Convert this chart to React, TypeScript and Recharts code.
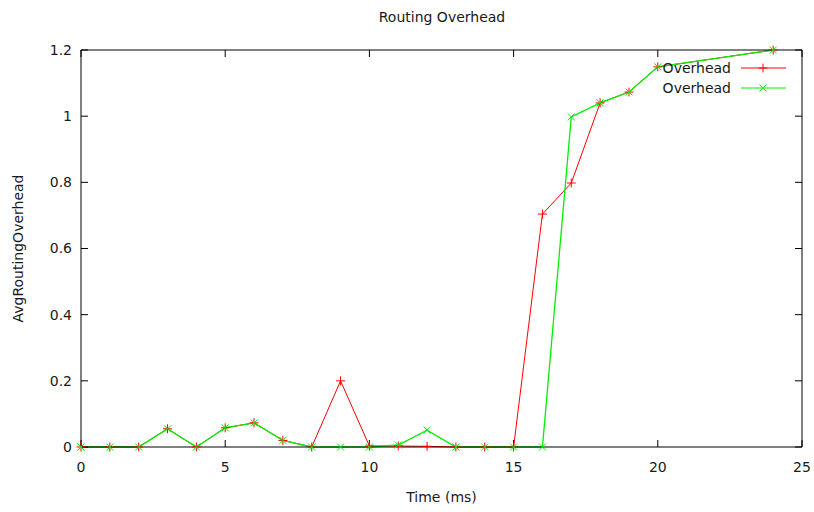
import { LineChart, Line, XAxis, YAxis, Legend, Label } from "recharts";

// time (ms)
const times = [0, 1, 2, 3, 4, 5, 6, 7, 8, 9, 10, 11, 12, 13, 14, 15, 16, 17, 18, 19, 20, 24];
// first "Overhead" series (red, + marks)
const overheadA = [0, 0, 0, 0.055, 0, 0.058, 0.073, 0.02, 0, 0.2, 0.003, 0.003, 0.002, 0, 0, 0, 0.704, 0.798, 1.04, 1.073, 1.149, 1.2];
// second "Overhead" series (green, x marks)
const overheadB = [0, 0, 0, 0.055, 0, 0.058, 0.073, 0.02, 0, 0, 0, 0.006, 0.051, 0, 0, 0, 0, 0.998, 1.04, 1.073, 1.149, 1.2];

const xTicks = [0, 5, 10, 15, 20, 25];
const yTicks = [0, 0.2, 0.4, 0.6, 0.8, 1, 1.2];

const data = times.map((t, i) => ({ t, a: overheadA[i], b: overheadB[i] }));

const FONT = "'DejaVu Sans', sans-serif";
const TXT = "#1a1a1a";

const PlusDot = (p: any) => {
  if (p.cx == null || p.cy == null) return null;
  const s = 4.5;
  return (
    <g stroke={p.stroke} strokeWidth={1}>
      <line x1={p.cx - s} y1={p.cy} x2={p.cx + s} y2={p.cy} />
      <line x1={p.cx} y1={p.cy - s} x2={p.cx} y2={p.cy + s} />
    </g>
  );
};

const CrossDot = (p: any) => {
  if (p.cx == null || p.cy == null) return null;
  const s = 3.5;
  return (
    <g stroke={p.stroke} strokeWidth={1}>
      <line x1={p.cx - s} y1={p.cy - s} x2={p.cx + s} y2={p.cy + s} />
      <line x1={p.cx - s} y1={p.cy + s} x2={p.cx + s} y2={p.cy - s} />
    </g>
  );
};

const KeyContent = (props: any) => {
  const items = (props.payload || []).filter((it: any) => it.type !== "none");
  return (
    <svg width={200} height={40} style={{ display: "block" }}>
      {items.map((it: any, i: number) => {
        const y = 10 + i * 20;
        const Mark = i === 0 ? PlusDot : CrossDot;
        return (
          <g key={i}>
            <text x={131} y={y} dy="0.36em" textAnchor="end" fontSize={14} fontFamily={FONT} fill={TXT}>
              {it.value}
            </text>
            <line x1={141} y1={y} x2={186} y2={y} stroke={it.color} strokeWidth={1} />
            <Mark cx={163} cy={y} stroke={it.color} />
          </g>
        );
      })}
    </svg>
  );
};

const noLabel = () => "";

export default function App() {
  const tickStyle = { fontSize: 14, fontFamily: FONT, fill: TXT };
  return (
    <div style={{ position: "absolute", left: 0, top: 0, width: 814, height: 512, background: "#fff" }}>
      <LineChart
        width={814}
        height={512}
        data={data}
        margin={{ top: 49, right: 11, bottom: 0, left: 0 }}
        style={{ fontFamily: FONT }}
      >
        <text x={442} y={22} textAnchor="middle" fontSize={14} fontFamily={FONT} fill={TXT}>
          Routing Overhead
        </text>
        <XAxis
          dataKey="t"
          type="number"
          domain={[0, 25]}
          ticks={xTicks}
          height={65}
          tickSize={-7}
          tickMargin={22}
          stroke="#000"
          tick={tickStyle}
        >
          <Label
            content={({ viewBox }: any) => (
              <text x={viewBox.x + viewBox.width / 2} y={viewBox.y + 55} textAnchor="middle" fontSize={14} fontFamily={FONT} fill={TXT}>
                Time (ms)
              </text>
            )}
          />
        </XAxis>
        <XAxis
          xAxisId="top"
          dataKey="t"
          orientation="top"
          type="number"
          domain={[0, 25]}
          ticks={xTicks}
          height={1}
          tickSize={-7}
          tickFormatter={noLabel}
          stroke="#000"
        />
        <YAxis
          type="number"
          domain={[0, 1.2]}
          ticks={yTicks}
          width={81}
          tickSize={-7}
          tickMargin={16}
          stroke="#000"
          tick={tickStyle}
        >
          <Label
            content={({ viewBox }: any) => {
              const x = viewBox.x + 23;
              const y = viewBox.y + viewBox.height / 2;
              return (
                <text x={x} y={y} transform={`rotate(-90 ${x} ${y})`} textAnchor="middle" fontSize={14} fontFamily={FONT} fill={TXT}>
                  AvgRoutingOverhead
                </text>
              );
            }}
          />
        </YAxis>
        <YAxis
          yAxisId="right"
          orientation="right"
          type="number"
          domain={[0, 1.2]}
          ticks={yTicks}
          width={1}
          tickSize={-7}
          tickFormatter={noLabel}
          stroke="#000"
        />
        <Legend
          layout="horizontal"
          verticalAlign="middle"
          align="center"
          content={KeyContent}
          wrapperStyle={{ top: 58, left: 600, width: 200, height: 40 }}
        />
        {/* invisible series so the mirrored top/right axes get drawn (gnuplot border) */}
        <Line
          xAxisId="top"
          yAxisId="right"
          dataKey="a"
          stroke="none"
          dot={false}
          activeDot={false}
          legendType="none"
          isAnimationActive={false}
        />
        <Line
          dataKey="a"
          name="Overhead"
          type="linear"
          stroke="#ff0000"
          strokeWidth={1}
          dot={<PlusDot />}
          activeDot={false}
          isAnimationActive={false}
        />
        <Line
          dataKey="b"
          name="Overhead"
          type="linear"
          stroke="#00f000"
          strokeWidth={1.3}
          dot={<CrossDot />}
          activeDot={false}
          isAnimationActive={false}
        />
      </LineChart>
    </div>
  );
}
